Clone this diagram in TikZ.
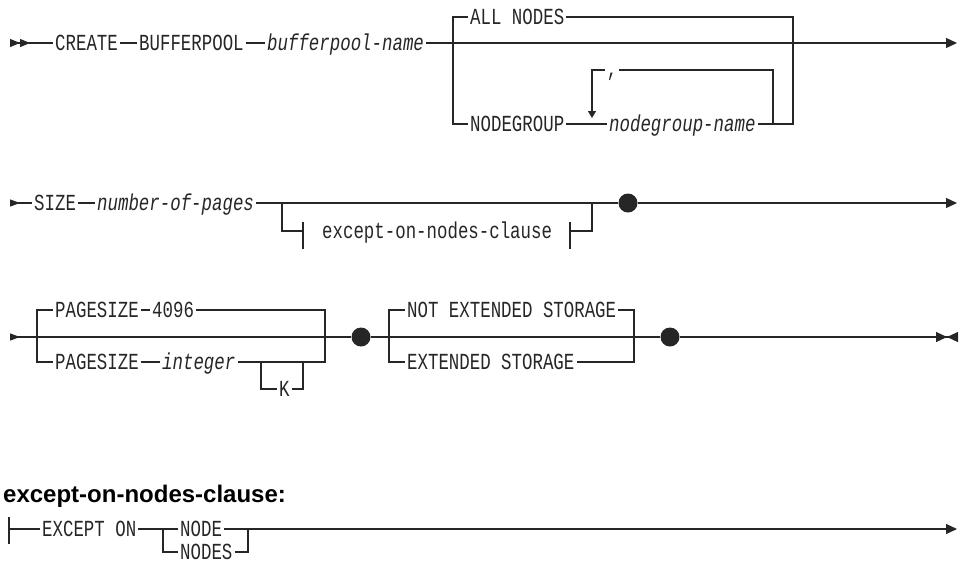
\documentclass[tikz,border=0pt]{standalone}
\usepackage{fontspec}
\newfontfamily\railfont{Liberation Mono}[FakeStretch=0.757]
\newfontfamily\headfont{Liberation Sans}
\usepackage{xcolor}
\usetikzlibrary{arrows.meta}
\definecolor{railc}{gray}{0.15}

\begin{document}
\begin{tikzpicture}[x=1pt,y=-1pt,
  every node/.style={font=\railfont\fontsize{23}{25}\selectfont,text=railc},
  kw/.style={anchor=west,inner xsep=2pt,inner ysep=0pt,text height=15pt,text depth=0pt},
  var/.style={kw,font=\railfont\itshape\fontsize{23}{25}\selectfont},
  rail/.style={draw=railc,line width=1.2pt},
  blob/.style={circle,fill=railc,minimum size=19pt,inner sep=0pt},
  rtip/.tip={Triangle[length=11pt,width=10pt]} ]
  \useasboundingbox (0,0) rectangle (965,563);

  % CREATE BUFFERPOOL line
  \coordinate (s1) at (10,43);
  \node[kw] (create) at (53,43) {CREATE};
  \node[kw] (bpool) at (137,43) {BUFFERPOOL};
  \node[var] (bpname) at (265,43) {bufferpool-name};
  \coordinate (f1) at (453,43);
  \coordinate (j1) at (793,43);
  \coordinate (e1) at (957,43);
  \node[kw] (allnd) at (468,17) {ALL NODES};
  \node[kw] (ndgrp) at (468,124) {NODEGROUP};
  \node[var] (ngname) at (607,124) {nodegroup-name};
  \coordinate (lpl) at (592,70);
  \coordinate (lpd) at (592,118);
  \coordinate (lpr) at (773,70);
  \coordinate (lpb) at (773,124);
  \node[kw,anchor=base] (comma) at (612,76) {,};

  \draw[rail,{rtip[reversed,length=10pt,width=8pt]rtip[reversed,length=10pt,width=8pt]}-] (s1) -- (create.west);
  \draw[rail] (create.east) -- (bpool.west) (bpool.east) -- (bpname.west);
  \draw[rail,-rtip] (bpname.east) -- (e1);
  \draw[rail] (f1) |- (allnd.west) (allnd.east) -| (j1) |- (ngname.east);
  \draw[rail] (f1) |- (ndgrp.west) (ndgrp.east) -- (ngname.west);
  \draw[rail] (lpb) -- (lpr) -- (comma.east |- lpr);
  \draw[rail,-{rtip[length=7pt,width=8pt]}] (comma.west |- lpl) -- (lpl) -- (lpd);

  % SIZE line
  \coordinate (s2) at (10,203);
  \node[kw] (size) at (32,203) {SIZE};
  \node[var] (npages) at (95,203) {number-of-pages};
  \coordinate (f2) at (282,203);
  \coordinate (j2) at (592,203);
  \coordinate (tl) at (303,231);
  \coordinate (tr) at (570,231);
  \node[kw] (clause) at (320,231) {except-on-nodes-clause};
  \node[blob] (b2) at (628,203) {};
  \coordinate (e2) at (957,203);

  \draw[rail,{rtip[reversed,length=10pt,width=7pt]}-] (s2) -- (size.west);
  \draw[rail] (size.east) -- (npages.west) (npages.east) -- (b2);
  \draw[rail,-rtip] (b2) -- (e2);
  \draw[rail] (f2) |- (tl) (tl) ++(0,-9) -- ++(0,27);
  \draw[rail] (tr) -| (j2) (tr) ++(0,-9) -- ++(0,27);

  % PAGESIZE / STORAGE line
  \coordinate (s3) at (10,337);
  \coordinate (f3) at (37,337);
  \coordinate (j3) at (325,337);
  \node[kw] (psz1) at (53,310) {PAGESIZE};
  \node[kw] (n4096) at (150,310) {4096};
  \node[kw] (psz2) at (53,362) {PAGESIZE};
  \node[var] (intg) at (160,362) {integer};
  \coordinate (kf) at (261,362);
  \coordinate (kj) at (303,362);
  \node[kw] (kay) at (277,389) {K};
  \node[blob] (b3) at (361,337) {};
  \coordinate (f4) at (389,337);
  \coordinate (j4) at (634,337);
  \node[kw] (notext) at (405,310) {NOT EXTENDED STORAGE};
  \node[kw] (ext) at (405,362) {EXTENDED STORAGE};
  \node[blob] (b4) at (670,337) {};
  \coordinate (e3) at (958,337);

  \draw[rail,{rtip[reversed,length=10pt,width=7pt]}-] (s3) -- (b3);
  \draw[rail] (b3) -- (b4);
  \draw[rail,-{rtip[]rtip[reversed]}] (b4) -- (e3);
  \draw[rail] (f3) |- (psz1.west) (psz1.east) -- (n4096.west) (n4096.east) -| (j3) |- (intg.east);
  \draw[rail] (f3) |- (psz2.west) (psz2.east) -- (intg.west);
  \draw[rail] (kf) |- (kay.west) (kay.east) -| (kj);
  \draw[rail] (f4) |- (notext.west) (notext.east) -| (j4) |- (ext.east);
  \draw[rail] (f4) |- (ext.west);

  % except-on-nodes-clause fragment
  \node[anchor=west,inner sep=0pt,text=black,font=\headfont\bfseries\fontsize{24}{26}\selectfont] (head) at (3,496) {except-on-nodes-clause:};
  \coordinate (s5) at (9,529);
  \node[kw] (except) at (40,529) {EXCEPT ON};
  \coordinate (f5) at (163,529);
  \node[kw] (node1) at (178,529) {NODE};
  \node[kw] (node2) at (178,552) {NODES};
  \coordinate (j5) at (248,529);
  \coordinate (e5) at (957,529);

  \draw[rail] (s5) ++(0,-12) -- ++(0,27);
  \draw[rail] (s5) -- (except.west);
  \draw[rail] (except.east) -- (node1.west);
  \draw[rail,-rtip] (node1.east) -- (e5);
  \draw[rail] (f5) |- (node2.west) (node2.east) -| (j5);
\end{tikzpicture}
\end{document}
